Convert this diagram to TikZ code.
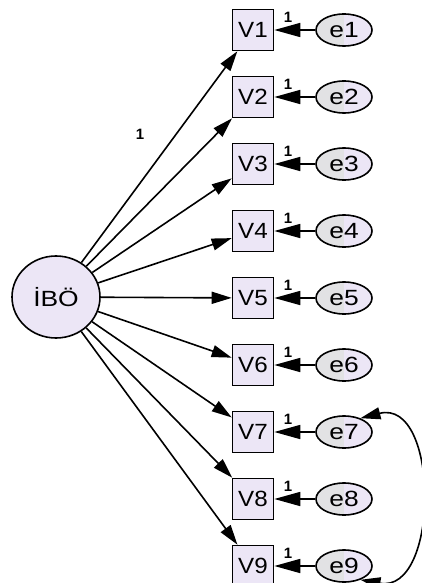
\documentclass[tikz,border=0pt]{standalone}
\usepackage{fontspec}
\setmainfont{Liberation Sans}
\usetikzlibrary{arrows.meta,shapes.geometric}
\definecolor{lav}{RGB}{236,230,246}
\definecolor{lgray}{RGB}{226,226,228}
\newcommand{\wide}[2]{\scalebox{#1}[1]{#2}}
\tikzset{
  latent/.style={ellipse,draw,line width=1.6pt,fill=lav,minimum width=88pt,minimum height=82pt,inner sep=0pt,font=\fontsize{22}{22}\selectfont},
  obs/.style={rectangle,draw,line width=1.6pt,fill=lav,minimum width=41pt,minimum height=41pt,inner sep=0pt,font=\fontsize{22}{22}\selectfont},
  err/.style={ellipse,draw,line width=1.6pt,minimum width=56pt,minimum height=32pt,inner sep=0pt,font=\fontsize{22}{22}\selectfont,
    path picture={\fill[lgray] (path picture bounding box.south west) rectangle (path picture bounding box.north);
                  \fill[lav] (path picture bounding box.south) rectangle (path picture bounding box.north east);}},
  load/.style={line width=1.6pt,-{Triangle[length=20pt,width=12pt]}},
  resid/.style={line width=1.6pt,-{Triangle[length=26pt,width=14pt]}},
  cov/.style={line width=1.6pt,{Triangle[length=20pt,width=12pt]}-{Triangle[length=20pt,width=12pt]}},
  lbl/.style={font=\bfseries\fontsize{15}{15}\selectfont,inner sep=0pt}
}
\begin{document}
\begin{tikzpicture}[x=1pt,y=-1pt]
\useasboundingbox (0,0) rectangle (421,583);
\node[latent] (ibo) at (56,297) {\wide{1.2}{İBÖ}};
\foreach \i in {1,...,9}{
  \pgfmathsetmacro{\yy}{30+(\i-1)*67}
  \node[obs] (v\i) at (253,\yy) {\wide{1.1}{V\i}};
  \node[err] (e\i) at (344,\yy) {\wide{1.2}{e\i}};
  \draw[resid] (e\i) -- (v\i);
  \node[lbl] (o\i) at (288,\yy-13) {1};
  \draw[load] (ibo) -- (v\i);
}
\node[lbl] (l1) at (140,134) {1};
\draw[cov] (e7.40) .. controls (440,398) and (440,594) .. (e9.-40);
\end{tikzpicture}
\end{document}
